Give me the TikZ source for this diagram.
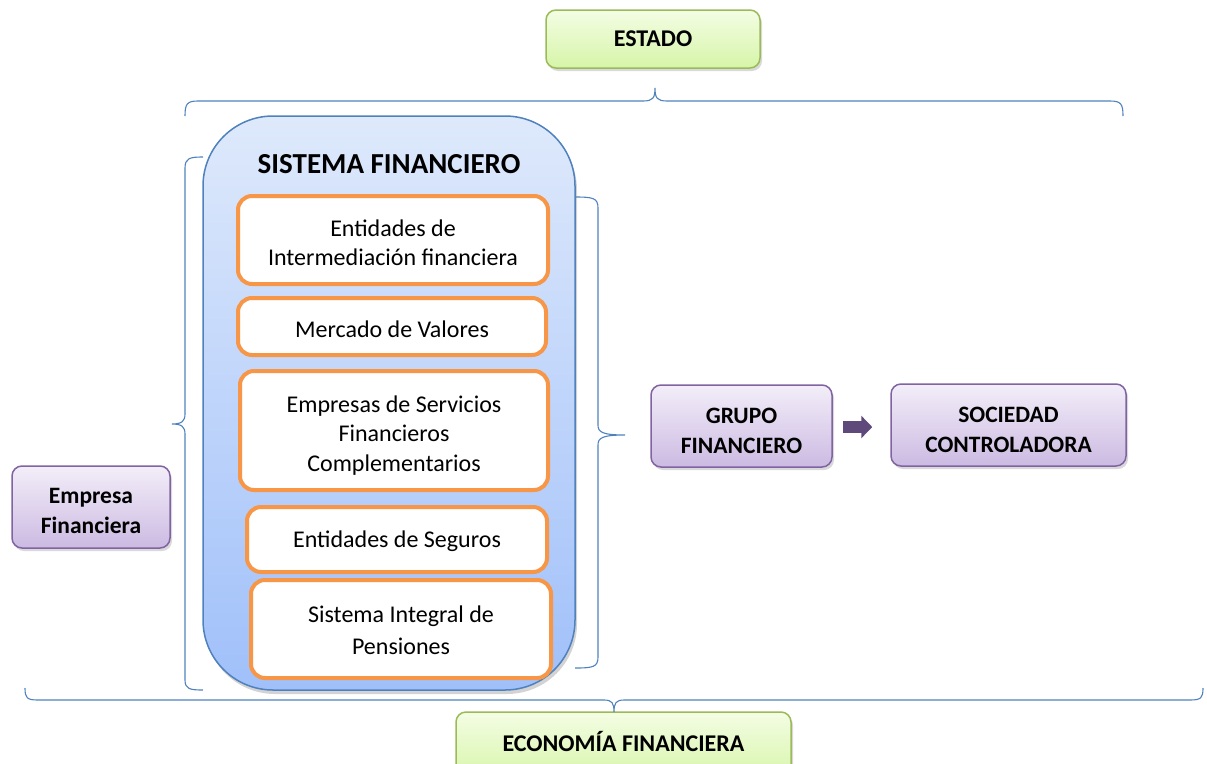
\documentclass[tikz,border=0pt]{standalone}
\usepackage{fontspec}
\setmainfont{Carlito}
\usetikzlibrary{shadows,arrows.meta}
\definecolor{greenborder}{RGB}{155,187,89}
\definecolor{greentop}{RGB}{244,253,228}
\definecolor{greenbot}{RGB}{214,245,168}
\definecolor{purpborder}{RGB}{128,100,162}
\definecolor{purptop}{RGB}{243,238,249}
\definecolor{purpbot}{RGB}{204,186,226}
\definecolor{bluebord}{RGB}{79,129,189}
\definecolor{bluetop}{RGB}{222,233,251}
\definecolor{bluebot}{RGB}{160,192,250}
\definecolor{orangeb}{RGB}{247,150,70}
\definecolor{arrowc}{RGB}{95,73,122}
\definecolor{bracec}{RGB}{79,129,189}
\tikzset{
  greenbox/.style={draw=greenborder, line width=1.5pt, rounded corners=10pt,
    top color=greentop, bottom color=greenbot, align=center,
    font=\fontsize{24}{28}\selectfont\bfseries,
    drop shadow={shadow xshift=2pt, shadow yshift=-3pt, opacity=0.3}},
  purpbox/.style={draw=purpborder, line width=1.5pt, rounded corners=10pt,
    top color=purptop, bottom color=purpbot,
    drop shadow={shadow xshift=2pt, shadow yshift=-3pt, opacity=0.3}},
  purptext/.style={align=center, font=\fontsize{23.5}{30}\selectfont\bfseries},
  orangebox/.style={draw=orangeb, line width=4pt, rounded corners=14pt,
    fill=white, align=center, inner sep=0pt},
  itemtext/.style={font=\fontsize{24}{29}\selectfont, align=center},
  bracepath/.style={draw=bracec, line width=1.1pt},
}
\begin{document}
\begin{tikzpicture}[x=1pt,y=-1pt]
\useasboundingbox (0,0) rectangle (1207,763);
\begin{scope}
\clip (0,0) rectangle (1207,763);
% green boxes
\node[greenbox, minimum width=214pt, minimum height=58pt] (estado) at (653,39) {ESTADO};
\node[greenbox, minimum width=335pt, minimum height=70pt] (economia) at (623.5,747) {};
\node[font=\fontsize{24}{28}\selectfont\bfseries] (economiatxt) at (623.5,741) {ECONOMÍA FINANCIERA};

% braces
\path[bracepath] (185,116) .. controls (185,104) and (187,101) .. (198,101) -- (643,101)
  .. controls (653,101) and (655,98) .. (655,88)
  .. controls (655,98) and (657,101) .. (667,101) -- (1110,101)
  .. controls (1121,101) and (1123,104) .. (1123,116);
\path[bracepath] (203,157) .. controls (190,157) and (185,158) .. (185,168) -- (185,414)
  .. controls (185,421) and (182,424) .. (172,424)
  .. controls (182,424) and (185,427) .. (185,434) -- (185,680)
  .. controls (185,689) and (190,690) .. (203,690);
\path[bracepath] (575,197) .. controls (593,197) and (598,198) .. (598,208) -- (598,425)
  .. controls (598,432) and (602,435) .. (625,435)
  .. controls (602,435) and (598,438) .. (598,445) -- (598,657)
  .. controls (598,667) and (593,668) .. (575,668);
\path[bracepath] (25,688) .. controls (25,698) and (27,700) .. (38,700) -- (604,700)
  .. controls (612,700) and (614,703) .. (614,712)
  .. controls (614,703) and (616,700) .. (624,700) -- (1190,700)
  .. controls (1201,700) and (1203,698) .. (1203,688);

% big blue box
\node[draw=bluebord, line width=1.5pt, rounded corners=70pt, top color=bluetop, bottom color=bluebot,
  minimum width=372pt, minimum height=574pt,
  drop shadow={shadow xshift=2pt, shadow yshift=-4pt, opacity=0.35}] (sistema) at (389,403) {};
\node[font=\fontsize{29}{32}\selectfont\bfseries] (sistematitle) at (389,164) {SISTEMA FINANCIERO};

% orange boxes
\node[orangebox, minimum width=310pt, minimum height=88pt] (eif) at (393,240) {};
\node[itemtext] (eiftxt) at (393,243) {Entidades de\\Intermediación financiera};
\node[orangebox, minimum width=308pt, minimum height=57pt] (mv) at (392,326.5) {};
\node[itemtext] (mvtxt) at (392,329) {Mercado de Valores};
\node[orangebox, minimum width=308pt, minimum height=119pt] (esf) at (394,430.5) {};
\node[itemtext, font=\fontsize{24}{29.5}\selectfont] (esftxt) at (394,435.5) {Empresas de Servicios\\Financieros\\Complementarios};
\node[orangebox, minimum width=300pt, minimum height=65pt] (es) at (397,539.5) {};
\node[itemtext] (estxt) at (397,541) {Entidades de Seguros};
\node[orangebox, minimum width=300pt, minimum height=98pt] (sip) at (401,629) {};
\node[itemtext, font=\fontsize{24}{32}\selectfont] (siptxt) at (401,630) {Sistema Integral de\\Pensiones};

% purple boxes
\node[purpbox, minimum width=158pt, minimum height=82pt] (empresa) at (91,507) {};
\node[purptext] (empresatxt) at (91,511) {Empresa\\Financiera};
\node[purpbox, minimum width=181pt, minimum height=82pt] (grupo) at (741.5,426) {};
\node[purptext] (grupotxt) at (741.5,430.5) {GRUPO\\FINANCIERO};
\node[purpbox, minimum width=235pt, minimum height=82pt] (sociedad) at (1008.5,425) {};
\node[purptext] (sociedadtxt) at (1008.5,430) {SOCIEDAD\\CONTROLADORA};

\draw[line width=12pt, arrowc, -{Triangle[length=11pt,width=22pt]}, shorten <=10pt, shorten >=18pt]
  (grupo.east |- 0,427) -- (sociedad.west |- 0,427);
\end{scope}
\end{tikzpicture}
\end{document}
